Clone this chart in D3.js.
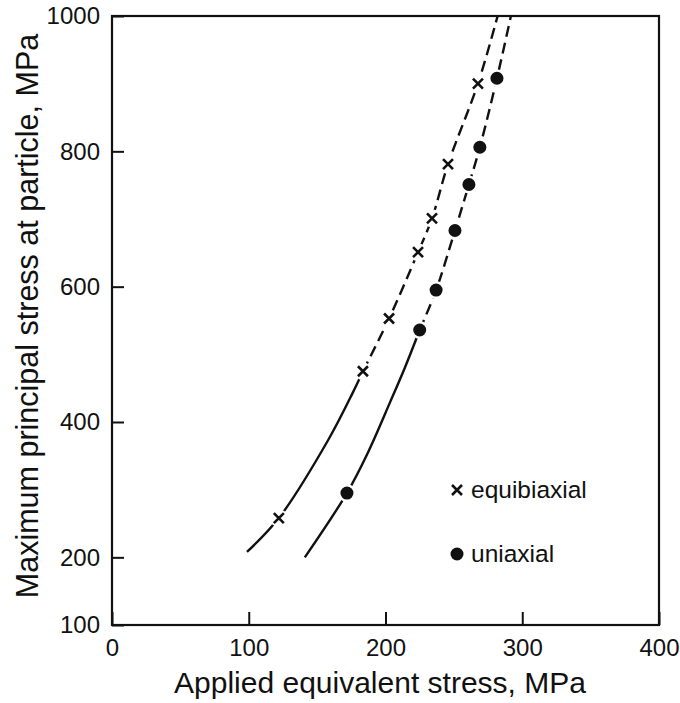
<!DOCTYPE html>
<html>
<head>
<meta charset="utf-8">
<script src="https://cdn.jsdelivr.net/npm/d3@7"></script>
<style>
  body { margin: 0; background: #fff; }
  text { font-family: "Liberation Sans", Arial, sans-serif; fill: #111; }
</style>
</head>
<body>
<script>
// data (x = applied stress, y = max principal stress, MPa)
var equiPoints = [[122, 258], [183.5, 475], [202.6, 553], [223.8, 651], [234, 701], [245.7, 781], [267.6, 900]];
var uniPoints = [[171.8, 295], [225, 536], [237, 595], [250.8, 683], [261, 751], [269, 806], [281.5, 908]];

// fitted curves: solid part then dashed part
var equiSolid = [[98.7, 208], [122, 258], [158, 373], [176, 443], [183.5, 475]];
var equiDashed = [[183.5, 475], [202.6, 553], [223.8, 651], [234, 701], [245.7, 781], [267.6, 900], [282, 1000]];
var uniSolid = [[141, 200], [171.8, 295], [187.2, 355], [203.3, 429], [214.3, 481], [225, 536]];
var uniDashed = [[225, 536], [237, 595], [250.8, 683], [261, 751], [269, 806], [281.5, 908], [291.7, 1000]];

var xTicks = [0, 100, 200, 300, 400];
var yTicks = [100, 200, 400, 600, 800, 1000];

var W = 680, H = 703;
var mLeft = 112, mRight = 659, mTop = 16, mBottom = 625;

var svg = d3.select("body").append("svg")
    .attr("width", W)
    .attr("height", H);

var x = d3.scaleLinear().domain([0, 400]).range([mLeft, mRight]);
var y = d3.scaleLinear().domain([100, 1000]).range([mBottom, mTop]);

//axes with inward ticks
var xAxis = svg.append("g")
    .attr("transform", "translate(0," + mBottom + ")")
    .call(d3.axisBottom(x).tickValues(xTicks).tickSize(-13).tickPadding(14).tickFormat(d3.format("d")));
var yAxis = svg.append("g")
    .attr("transform", "translate(" + mLeft + ",0)")
    .call(d3.axisLeft(y).tickValues(yTicks).tickSize(-12).tickPadding(12).tickFormat(d3.format("d")));

[xAxis, yAxis].forEach(function(g) {
    g.select(".domain").remove();
    g.selectAll(".tick line").attr("stroke", "#111").attr("stroke-width", 2);
    g.selectAll(".tick text")
        .style("font-family", "'Liberation Sans', Arial, sans-serif")
        .style("font-size", "24px")
        .attr("fill", "#111");
});

//frame
svg.append("rect")
    .attr("x", mLeft).attr("y", mTop)
    .attr("width", mRight - mLeft).attr("height", mBottom - mTop)
    .attr("fill", "none")
    .attr("stroke", "#111")
    .attr("stroke-width", 2.2);

//curves
var line = d3.line()
    .x(function(d) { return x(d[0]); })
    .y(function(d) { return y(d[1]); })
    .curve(d3.curveCatmullRom.alpha(0.5));

var curves = svg.append("g").attr("fill", "none").attr("stroke", "#111").attr("stroke-width", 2.4);
curves.append("path").attr("d", line(equiSolid));
curves.append("path").attr("d", line(uniSolid));
curves.append("path").attr("d", line(equiDashed)).attr("stroke-dasharray", "11,6");
curves.append("path").attr("d", line(uniDashed)).attr("stroke-dasharray", "11,6");

//white halos so the lines break at the markers
svg.append("g").selectAll("circle")
    .data(equiPoints.concat(uniPoints))
    .enter().append("circle")
    .attr("cx", function(d) { return x(d[0]); })
    .attr("cy", function(d) { return y(d[1]); })
    .attr("r", 9)
    .attr("fill", "#fff");

function drawCross(g, px, py) {
    g.append("path")
        .attr("d", "M-5,-5L5,5M-5,5L5,-5")
        .attr("transform", "translate(" + px + "," + py + ")")
        .attr("stroke", "#111")
        .attr("stroke-width", 2.6)
        .attr("fill", "none");
}

var marks = svg.append("g");
equiPoints.forEach(function(d) { drawCross(marks, x(d[0]), y(d[1])); });
marks.selectAll("circle.uni")
    .data(uniPoints)
    .enter().append("circle")
    .attr("class", "uni")
    .attr("cx", function(d) { return x(d[0]); })
    .attr("cy", function(d) { return y(d[1]); })
    .attr("r", 6.5)
    .attr("fill", "#111");

//legend
drawCross(svg, 457, 490);
svg.append("text").attr("x", 471).attr("y", 498).style("font-size", "24.5px").text("equibiaxial");
svg.append("circle").attr("cx", 457).attr("cy", 554).attr("r", 6.5).attr("fill", "#111");
svg.append("text").attr("x", 471).attr("y", 562).style("font-size", "24.5px").text("uniaxial");

//axis titles
svg.append("text")
    .attr("x", 380)
    .attr("y", 693)
    .attr("text-anchor", "middle")
    .style("font-size", "30px")
    .text("Applied equivalent stress, MPa");

svg.append("text")
    .attr("transform", "translate(38," + 316 + ") rotate(-90)")
    .attr("text-anchor", "middle")
    .style("font-size", "30.5px")
    .text("Maximum principal stress at particle, MPa");
</script>
</body>
</html>
